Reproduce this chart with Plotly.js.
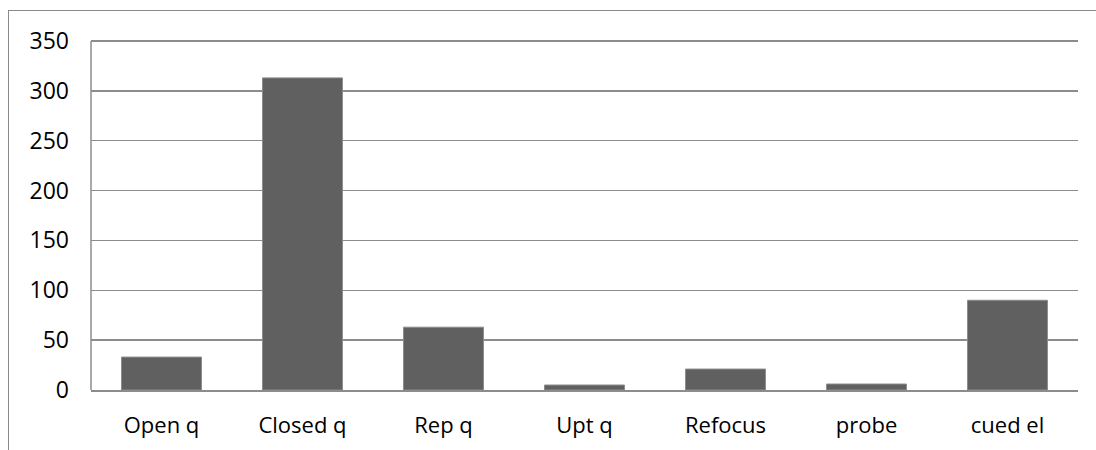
<!DOCTYPE html>
<html>
<head>
<meta charset="utf-8">
<script src="https://cdn.plot.ly/plotly-3.0.1.min.js"></script>
<style>
html,body{margin:0;padding:0;background:#fff;}
#frame{position:absolute;left:8px;top:10px;width:1200px;height:600px;border-left:1.5px solid #8a8a8a;border-top:1.5px solid #8a8a8a;pointer-events:none;}
#chart{position:absolute;left:0;top:0;width:1096px;height:450px;}
</style>
</head>
<body>
<div id="chart"></div>
<div id="frame"></div>
<script>
const categories = ["Open q", "Closed q", "Rep q", "Upt q", "Refocus", "probe", "cued el"];
const values = [33, 313, 63, 5, 21, 6, 90];
const yTicks = [0, 50, 100, 150, 200, 250, 300, 350];

const trace = {
  type: 'bar',
  x: categories,
  y: values,
  marker: {color: '#606060', line: {color: '#8c8c8c', width: 1}},
  hoverinfo: 'x+y'
};

const layout = {
  width: 1096, height: 450,
  margin: {l: 91, r: 18, t: 36, b: 60},
  paper_bgcolor: 'rgba(0,0,0,0)',
  plot_bgcolor: 'rgba(0,0,0,0)',
  bargap: 0.433,
  showlegend: false,
  font: {family: 'Open Sans, sans-serif', size: 22, color: '#000'},
  xaxis: {
    type: 'category',
    showgrid: false,
    showline: true, linecolor: '#8c8c8c', linewidth: 1.5,
    ticks: '', ticklabelstandoff: 15,
    tickfont: {size: 22, color: '#000'}
  },
  yaxis: {
    range: [0, 355],
    tickvals: yTicks,
    ticktext: yTicks.map(String),
    showgrid: true, gridcolor: '#8c8c8c', gridwidth: 1.5,
    zeroline: false,
    showline: false,
    ticks: '', ticklabelstandoff: 21,
    tickfont: {size: 23, color: '#000'}
  },
  shapes: [{
    type: 'line', xref: 'paper', yref: 'y',
    x0: 0, x1: 0, y0: 0, y1: yTicks[yTicks.length - 1],
    line: {color: '#8c8c8c', width: 1.5}
  }]
};

Plotly.newPlot('chart', [trace], layout, {displayModeBar: false, staticPlot: true});
</script>
</body>
</html>
